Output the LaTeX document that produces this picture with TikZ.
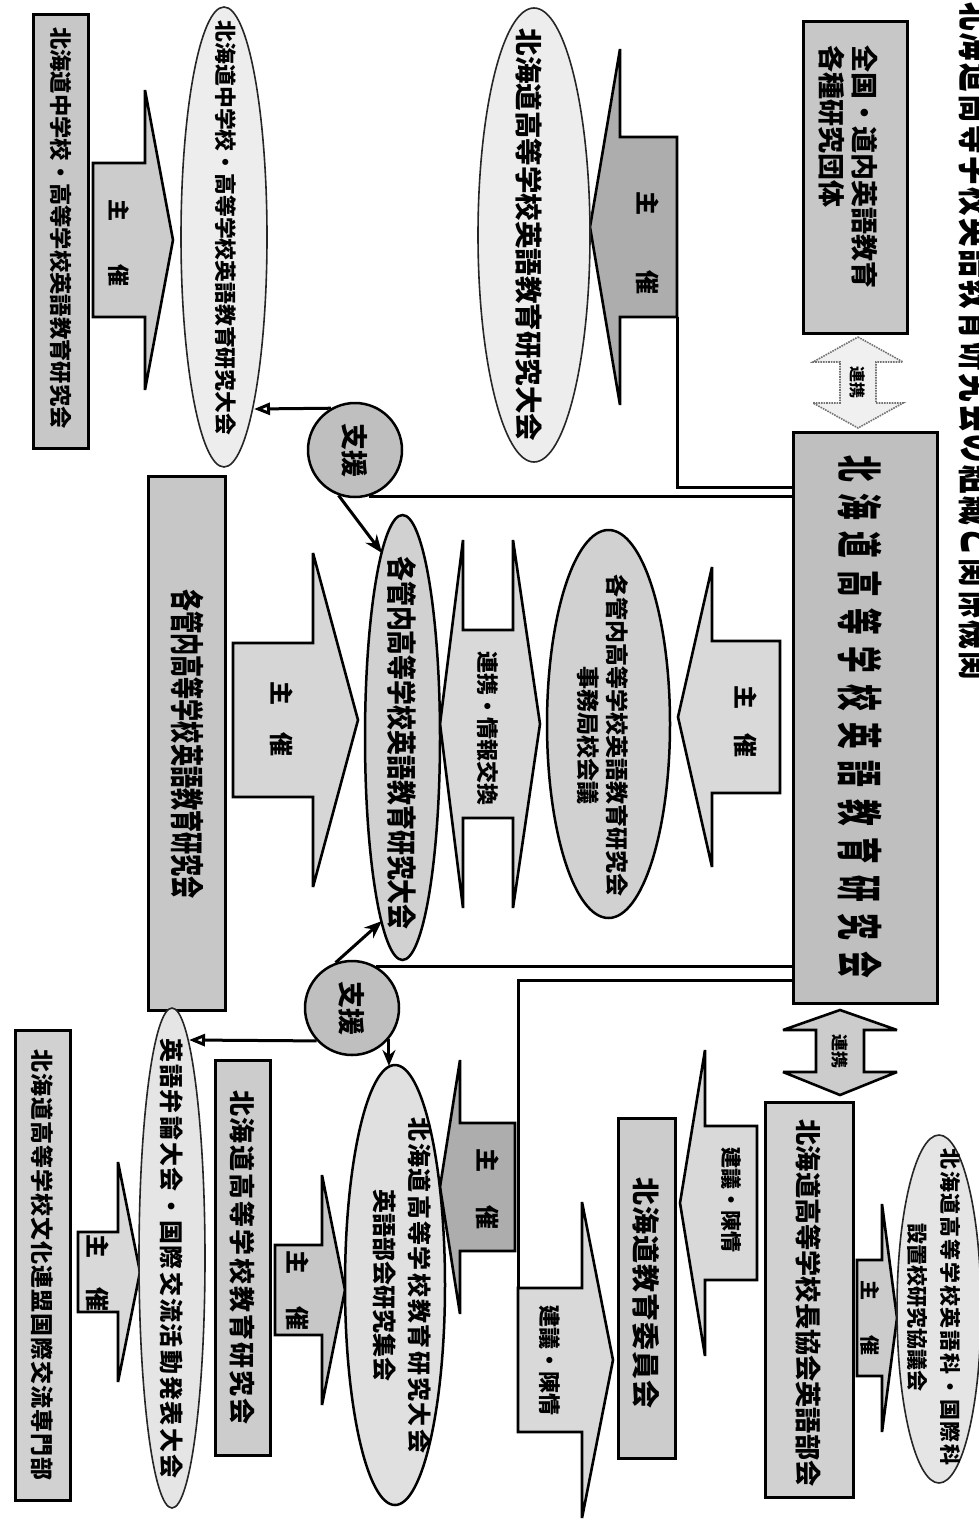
\documentclass[tikz,border=0pt]{standalone}
\usepackage{fontspec}
\setmainfont{Noto Sans CJK JP}
\usepackage{graphicx}
\usetikzlibrary{shapes.geometric,arrows.meta}
\newcommand\fsz[2]{\fontsize{#1}{#2}\selectfont}
\makeatletter
\def\ls@end{}
\newcommand\ls[2]{\def\ls@gap{#1}\ls@first#2\ls@end}
\def\ls@first#1{#1\ls@next}
\def\ls@next#1{\ifx#1\ls@end\else\hspace{\ls@gap}#1\expandafter\ls@next\fi}
\makeatother
% block arrow, horizontal: style, tail x, base x, tip x, centre y, shaft half, head half
\newcommand\harr[7]{\path[#1] (#2,#5-#6) -- (#3,#5-#6) -- (#3,#5-#7) -- (#4,#5) -- (#3,#5+#7) -- (#3,#5+#6) -- (#2,#5+#6) -- cycle;}
% double block arrow, vertical: style, cx, tip1, base1, base2, tip2, shaft half, head half
\newcommand\vdarr[8]{\path[#1] (#2,#3) -- (#2+#8,#4) -- (#2+#7,#4) -- (#2+#7,#5) -- (#2+#8,#5) -- (#2,#6) -- (#2-#8,#5) -- (#2-#7,#5) -- (#2-#7,#4) -- (#2-#8,#4) -- cycle;}
% double block arrow, horizontal: style, cy, tip1, base1, base2, tip2, shaft half, head half
\newcommand\hdarr[8]{\path[#1] (#3,#2) -- (#4,#2-#8) -- (#4,#2-#7) -- (#5,#2-#7) -- (#5,#2-#8) -- (#6,#2) -- (#5,#2+#8) -- (#5,#2+#7) -- (#4,#2+#7) -- (#4,#2+#8) -- cycle;}
\tikzset{
  box/.style={draw, rectangle, line width=3pt, inner sep=0pt},
  ell/.style={draw, ellipse, line width=2.5pt, inner sep=0pt},
  thinell/.style={draw=black!85, ellipse, line width=1.6pt, inner sep=0pt},
  circ/.style={draw, circle, line width=2.5pt, inner sep=0pt, minimum size=94pt, fill=black!25},
  blk/.style={draw, line width=2.6pt, line join=miter, miter limit=5},
  dotarr/.style={draw=black!55, densely dotted, line width=1.6pt, fill=black!6},
  conn/.style={line width=3pt},
  vtx/.style={rotate=-90, inner sep=0pt, font=\bfseries\fsz{#1}{#1}},
  vtxl/.style 2 args={rotate=-90, inner sep=0pt, align=center, font=\bfseries\fsz{#1}{#2}},
  vtxlft/.style 2 args={rotate=-90, inner sep=0pt, align=left, font=\bfseries\fsz{#1}{#2}},
}
\begin{document}
\begin{tikzpicture}[x=1pt,y=-1pt]
\useasboundingbox (0,0) rectangle (979,1520);
\fill[white] (0,0) rectangle (979,1520);

% heading, cut off by the right edge as in the reference
\node[rotate=-90, inner sep=0pt, font=\bfseries\fsz{46}{46}\addfontfeature{FakeStretch=0.62}] (title) at (981,341) {\ls{2.4pt}{北海道高等学校英語教育研究会の組織と関係機関}};

% ---------- block arrows ----------
\harr{blk, fill=black!32}{677}{620}{590}{227}{90}{178}
\harr{blk, fill=black!20}{93}{145}{173}{240}{77}{150}
\harr{blk, fill=black!16}{233}{313}{358}{720}{77}{167}
\hdarr{blk, fill=black!15}{724}{440}{463}{513}{540}{94}{184}
\harr{blk, fill=black!15}{780}{712}{678}{717}{76}{150}
\vdarr{dotarr}{858}{337}{362}{403}{428}{18}{45}
\vdarr{blk, fill=black!20}{840}{1010}{1030}{1072}{1095}{24}{57}
\harr{blk, fill=black!20}{857}{882}{897}{1318}{58}{114}
\harr{blk, fill=black!15}{757}{705}{680}{1203}{77}{153}
\harr{blk, fill=black!15}{518}{582}{613}{1360}{72}{158}
\harr{blk, fill=black!32}{515}{460}{440}{1187}{64}{127}
\harr{blk, fill=black!22}{275}{322}{345}{1290}{45}{115}
\harr{blk, fill=black!15}{78}{118}{140}{1272}{40}{110}

% ---------- boxes ----------
\node[box, fill=black!22, minimum width=104, minimum height=311] (A) at (855,177.5) {};
\node[box, fill=black!25, minimum width=144, minimum height=571] (B) at (865,717.5) {};
\node[box, fill=black!22, minimum width=55, minimum height=433] (C) at (60.5,231.5) {};
\node[box, fill=black!22, minimum width=77, minimum height=534] (D) at (186.5,743) {};
\node[box, fill=black!18, minimum width=88, minimum height=395] (F) at (809,1299.5) {};
\node[box, fill=black!20, minimum width=57, minimum height=340] (G) at (646.5,1288) {};
\node[box, fill=black!20, minimum width=55, minimum height=395] (H) at (242.5,1257.5) {};
\node[box, fill=black!18, minimum width=55, minimum height=470] (I) at (42.5,1265) {};

% ---------- ellipses and circles ----------
\node[thinell, fill=black!7, minimum width=112, minimum height=454] (E1) at (534,235) {};
\node[thinell, fill=black!7, minimum width=86, minimum height=460] (E2) at (224,237) {};
\node[ell, fill=black!18, minimum width=75, minimum height=445] (E3) at (402.5,737.5) {};
\node[ell, fill=black!18, minimum width=123, minimum height=388] (E4) at (608.5,724) {};
\node[ell, fill=black!12, minimum width=100, minimum height=440] (E5) at (395,1285) {};
\node[thinell, fill=black!10, minimum width=66, minimum height=500] (E6) at (172,1258) {};
\node[thinell, fill=black!10, minimum width=84, minimum height=348] (E7) at (939,1309) {};
\node[circ] (S1) at (355,450) {};
\node[circ] (S2) at (352,1008) {};

% ---------- connectors ----------
\coordinate (p1tail) at (677,317);
\coordinate (b1) at (793,487);
\draw[conn] (p1tail) |- (b1);
\coordinate (e2hit) at (254,409);
\draw[conn, -{Triangle[open, length=16pt, width=12pt]}] (S1.120) -- (e2hit);
\coordinate (e3hit1) at (382,553);
\draw[conn, -{Stealth[length=18pt, width=14pt]}] (S1.-110) -- (e3hit1);
\draw[conn] (S1.-73) -- (S1.-73 -| B.west);
\draw[conn] (S2.60) -- (S2.60 -| B.west);
\coordinate (e3hit2) at (382,921);
\draw[conn, -{Stealth[length=18pt, width=14pt]}] (S2.110) -- (e3hit2);
\coordinate (e6hit) at (189,1040);
\draw[conn, -{Triangle[open, length=16pt, width=12pt]}] (S2.-137) -- (e6hit);
\coordinate (e5hit) at (395,1066);
\draw[conn, -{Stealth[length=16pt, width=13pt]}] (S2.-40) -- (S2.-40 |- e5hit);
\coordinate (b3) at (793,980);
\coordinate (kj2top) at (518,1288);
\draw[conn] (b3) -| (kj2top);

% ---------- texts ----------
\node[vtxlft={27}{33}] (At) at (848.5,167) {全国・道内英語教育\\各種研究団体};
\node[vtx=16] (LK1t) at (858,382) {連携};
\node[rotate=-90, inner sep=0pt, font=\bfseries\fsz{46}{46}\addfontfeature{FakeStretch=0.58}] (Bt) at (860,717) {\ls{11.5pt}{北海道高等学校英語教育研究会}};
\node[vtx=27.5] (E1t) at (529,235) {北海道高等学校英語教育研究大会};
\node[vtx=24] (P1t) at (648,243) {主\hspace{56pt}催};
\node[vtx=22.3] (Ct) at (60.5,228) {北海道中学校・高等学校英語教育研究会};
\node[vtx=22] (P2t) at (119,243) {主\hspace{43pt}催};
\node[vtx=21.8] (E2t) at (226,228) {北海道中学校・高等学校英語教育研究大会};
\node[vtx=27] (S1t) at (355,450) {支援};
\node[vtx=27] (S2t) at (352,1008) {支援};
\node[rotate=-90, inner sep=0pt, font=\bfseries\fsz{34}{34}\addfontfeature{FakeStretch=0.65}] (Dt) at (187,744) {各管内高等学校英語教育研究会};
\node[vtx=24] (P4t) at (282,719) {主\hspace{28pt}催};
\node[rotate=-90, inner sep=0pt, font=\bfseries\fsz{30}{30}\addfontfeature{FakeStretch=0.83}] (E3t) at (402,743) {各管内高等学校英語教育研究大会};
\node[vtx=22] (LXt) at (488,728) {連携・情報交換};
\node[vtxl={23}{29}] (E4t) at (602.5,735) {各管内高等学校英語教育研究会\\事務局校会議};
\node[vtx=24] (P3t) at (746,721) {主\hspace{24pt}催};
\node[vtx=17] (LK2t) at (840,1051) {連携};
\node[vtx=26.2] (Ft) at (809,1303) {北海道高等学校長協会英語部会};
\node[vtxl={21}{33}] (E7t) at (933.5,1307) {\ls{1.8pt}{北海道高等学校英語科・国際科}\\設置校研究協議会};
\node[vtx=20] (P6t) at (870,1318) {主\hspace{35pt}催};
\node[vtx=21] (KJ1t) at (731,1200) {建議・陳情};
\node[vtx=28] (Gt) at (646.5,1293) {\ls{1pt}{北海道教育委員会}};
\node[vtx=22] (KJ2t) at (550,1360) {建議・陳情};
\node[vtx=24] (P5t) at (488,1189) {主\hspace{34pt}催};
\node[vtxl={24}{35}] (E5t) at (402.5,1285) {\ls{2pt}{北海道高等学校教育研究大会}\\英語部会研究集会};
\node[vtx=26] (Ht) at (242.5,1257) {\ls{2pt}{北海道高等学校教育研究会}};
\node[vtx=24] (P7t) at (298,1290) {主\hspace{32pt}催};
\node[vtx=24] (E6t) at (172,1258) {\ls{2pt}{英語弁論大会・国際交流活動発表大会}};
\node[vtx=23] (It) at (42.5,1265) {\ls{1pt}{北海道高等学校文化連盟国際交流専門部}};
\node[vtx=24] (P8t) at (98,1273) {主\hspace{29pt}催};
\end{tikzpicture}
\end{document}
